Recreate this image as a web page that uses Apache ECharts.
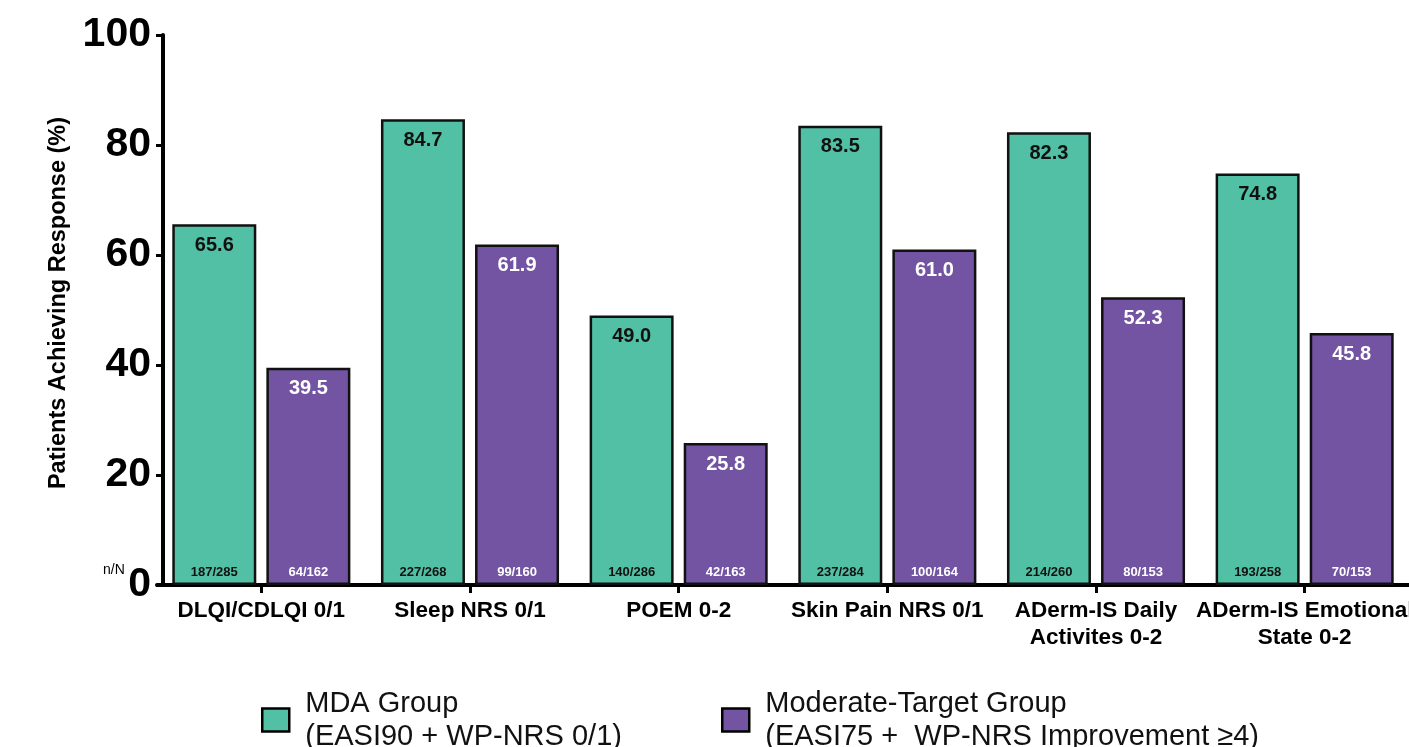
<!DOCTYPE html>
<html>
<head>
<meta charset="utf-8">
<script src="https://cdn.jsdelivr.net/npm/echarts@6/dist/echarts.min.js"></script>
<style>
html,body{margin:0;padding:0;background:#fff;}
#chart{width:1409px;height:747px;}
</style>
</head>
<body>
<div id="chart"></div>
<script>
var categories = ['DLQI/CDLQI 0/1', 'Sleep NRS 0/1', 'POEM 0-2', 'Skin Pain NRS 0/1', 'ADerm-IS Daily\nActivites 0-2', 'ADerm-IS Emotional\nState 0-2'];
var mdaValues = [65.6, 84.7, 49.0, 83.5, 82.3, 74.8];
var modValues = [39.5, 61.9, 25.8, 61.0, 52.3, 45.8];
var mdaN = ['187/285', '227/268', '140/286', '237/284', '214/260', '193/258'];
var modN = ['64/162', '99/160', '42/163', '100/164', '80/153', '70/153'];
var yTicks = [0, 20, 40, 60, 80, 100];
var mdaName = 'MDA Group\n(EASI90 + WP-NRS 0/1)';
var modName = 'Moderate-Target Group\n(EASI75 +  WP-NRS Improvement \u22654)';

var FONT = '"Liberation Sans", Arial, Helvetica, sans-serif';
var GREEN = '#51C0A4';
var PURPLE = '#7254A2';

var chart = echarts.init(document.getElementById('chart'), null, {renderer: 'canvas'});

var barW = 84;
var gap = '12%';

function nLabelSeries(name, values, labels, color) {
  return {
    name: name + '_n',
    type: 'bar',
    xAxisIndex: 1,
    data: values,
    barWidth: barW,
    barGap: gap,
    silent: true,
    z: 5,
    itemStyle: {color: 'rgba(0,0,0,0)', borderWidth: 0},
    label: {
      show: true,
      position: 'insideBottom',
      distance: 6,
      fontFamily: FONT,
      fontWeight: 'bold',
      fontSize: 13,
      color: color,
      formatter: function (p) { return labels[p.dataIndex]; }
    },
    legendHoverLink: false
  };
}

function legendCfg(name, left) {
  return {
    data: [{name: name, icon: 'rect'}],
    left: left, top: 682,
    itemWidth: 27, itemHeight: 23,
    selectedMode: false,
    itemStyle: {borderColor: '#000', borderWidth: 2.5},
    textStyle: {fontFamily: FONT, fontSize: 29, lineHeight: 33, color: '#111', padding: [0, 0, 0, 11]}
  };
}

var option = {
  animation: false,
  backgroundColor: '#ffffff',
  textStyle: {fontFamily: FONT},
  grid: {left: 157, right: 0, top: 35, bottom: 162, containLabel: false, outerBoundsMode: 'none'},
  legend: [legendCfg(mdaName, 256), legendCfg(modName, 716)],
  xAxis: [
    {
      type: 'category',
      data: categories,
      axisLine: {show: true, lineStyle: {color: '#000', width: 4}},
      axisTick: {show: true, alignWithLabel: true, length: 8, lineStyle: {color: '#000', width: 3}},
      axisLabel: {interval: 0, margin: 12, fontFamily: FONT, fontWeight: 'bold', fontSize: 22.5, lineHeight: 27, color: '#000', hideOverlap: false},
      splitLine: {show: false}
    },
    {
      type: 'category',
      data: categories,
      show: false
    }
  ],
  yAxis: {
    type: 'value',
    min: 0, max: 100, interval: 20,
    offset: -6,
    name: 'Patients Achieving Response (%)',
    nameLocation: 'middle',
    nameGap: 92,
    nameRotate: 90,
    nameTextStyle: {fontFamily: FONT, fontWeight: 'bold', fontSize: 23.5, color: '#000', padding: [0, 0, 0, 14]},
    axisLine: {show: true, lineStyle: {color: '#000', width: 4}},
    axisTick: {show: true, length: 7, lineStyle: {color: '#000', width: 3}},
    axisLabel: {margin: 12, fontFamily: FONT, fontWeight: 'bold', fontSize: 41, color: '#000',
      formatter: function (v) { return yTicks.indexOf(v) >= 0 ? String(v) : ''; }},
    splitLine: {show: false}
  },
  graphic: [
    {type: 'text', left: 103, top: 563, style: {text: 'n/N', fontFamily: FONT, fontSize: 14, fill: '#000'}}
  ],
  series: [
    {
      name: mdaName,
      type: 'bar',
      data: mdaValues,
      barWidth: barW,
      barGap: gap,
      itemStyle: {color: GREEN, borderColor: '#111', borderWidth: 2.5},
      label: {
        show: true, position: 'insideTop', distance: 11,
        fontFamily: FONT, fontWeight: 'bold', fontSize: 20, color: '#111',
        formatter: function (p) { return p.value.toFixed(1); }
      }
    },
    {
      name: modName,
      type: 'bar',
      data: modValues,
      barWidth: barW,
      barGap: gap,
      itemStyle: {color: PURPLE, borderColor: '#111', borderWidth: 2.5},
      label: {
        show: true, position: 'insideTop', distance: 11,
        fontFamily: FONT, fontWeight: 'bold', fontSize: 20, color: '#fff',
        formatter: function (p) { return p.value.toFixed(1); }
      }
    },
    nLabelSeries('mda', mdaValues, mdaN, '#111'),
    nLabelSeries('mod', modValues, modN, '#fff')
  ]
};

chart.setOption(option);
</script>
</body>
</html>
